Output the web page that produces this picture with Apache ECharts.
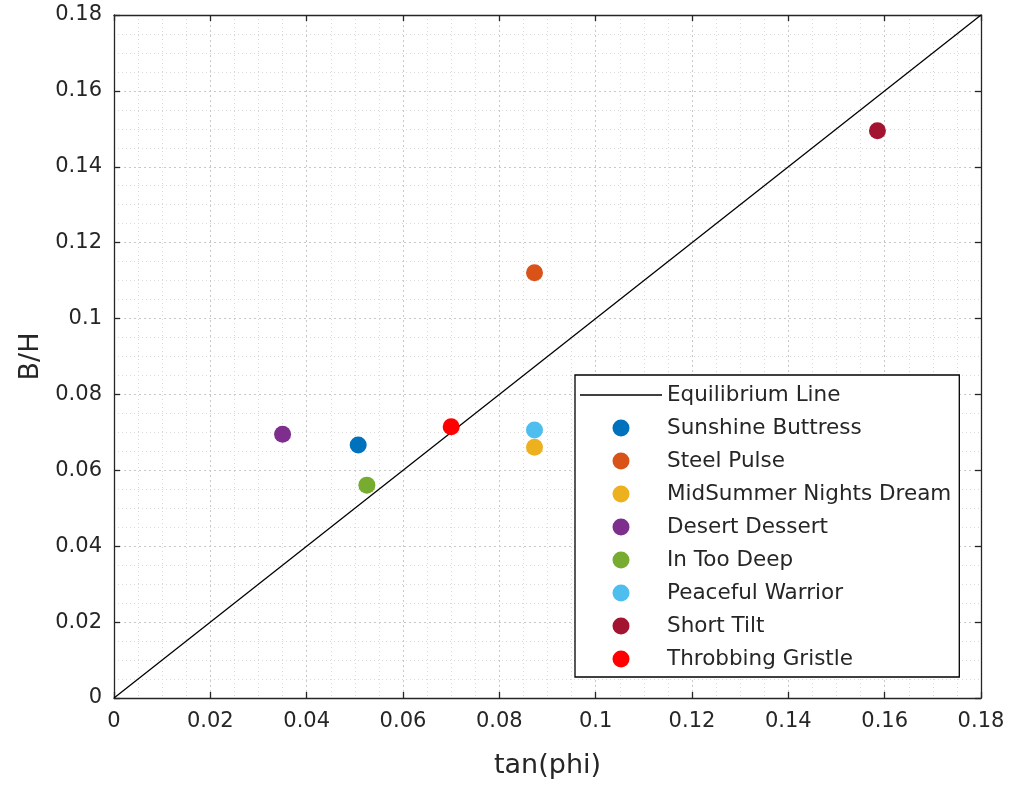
<!DOCTYPE html>
<html>
<head>
<meta charset="utf-8">
<script src="https://cdn.jsdelivr.net/npm/echarts@6/dist/echarts.min.js"></script>
<style>
  html, body { margin: 0; padding: 0; background: #fff; }
  #chart { width: 1013px; height: 788px; }
</style>
</head>
<body>
<div id="chart"></div>
<script>
// data
const siteNames = ['Sunshine Buttress', 'Steel Pulse', 'MidSummer Nights Dream', 'Desert Dessert',
  'In Too Deep', 'Peaceful Warrior', 'Short Tilt', 'Throbbing Gristle'];
const tanPhi = [0.0507, 0.0873, 0.0873, 0.0350, 0.0525, 0.0873, 0.1585, 0.0700];
const bOverH = [0.0667, 0.1121, 0.0661, 0.0695, 0.0561, 0.0706, 0.1495, 0.0715];
const siteColors = ['#0072BD', '#D95319', '#EDB120', '#7E2F8E', '#77AC30', '#4DBEEE', '#A2142F', '#FF0000'];
const eqLineX = [0, 0.18];
const eqLineY = [0, 0.18];
const tickLabels = ['0', '0.02', '0.04', '0.06', '0.08', '0.1', '0.12', '0.14', '0.16', '0.18'];

const FONT = 'DejaVu Sans';
const INK = '#262626';

function tickFmt(v) {
  return tickLabels[Math.round(v / 0.02)];
}

const chart = echarts.init(document.getElementById('chart'));

function baseAxis(extra) {
  return Object.assign({
    type: 'value',
    min: 0,
    max: 0.18,
    interval: 0.02,
    axisLine: { onZero: false, lineStyle: { color: INK, width: 1.3 } },
    axisTick: { inside: true, length: 6, lineStyle: { color: INK, width: 1.3 } },
    minorTick: { show: false },
  }, extra);
}

const gridLines = {
  splitLine: { show: true, lineStyle: { color: '#c8c8c8', type: [2, 3], width: 1 } },
  minorSplitLine: { show: true, lineStyle: { color: '#d9d9d9', type: [1, 3], width: 1 } },
  minorTick: { show: false, splitNumber: 4 },
};

const series = [{
  name: 'Equilibrium Line',
  type: 'line',
  xAxisIndex: 0,
  yAxisIndex: 0,
  data: eqLineX.map((x, i) => [x, eqLineY[i]]),
  symbol: 'none',
  lineStyle: { color: '#000', width: 1.3 },
  itemStyle: { color: '#000' },
  z: 2,
}];
siteNames.forEach((name, i) => {
  series.push({
    name: name,
    type: 'scatter',
    xAxisIndex: 0,
    yAxisIndex: 0,
    data: [[tanPhi[i], bOverH[i]]],
    symbol: 'circle',
    symbolSize: 17,
    itemStyle: { color: siteColors[i], opacity: 1 },
    z: 3,
  });
});

chart.setOption({
  animation: false,
  backgroundColor: '#fff',
  textStyle: { fontFamily: FONT },
  grid: { left: 114, right: 32, top: 15, bottom: 90, containLabel: false },
  xAxis: [
    baseAxis(Object.assign({
      position: 'bottom',
      name: 'tan(phi)',
      nameLocation: 'middle',
      nameGap: 54,
      nameTextStyle: { color: INK, fontSize: 27, fontFamily: FONT },
      axisLabel: { color: INK, fontSize: 21, fontFamily: FONT, margin: 13, formatter: tickFmt },
    }, gridLines)),
    baseAxis({
      position: 'top',
      axisLabel: { show: false },
      splitLine: { show: false },
    }),
  ],
  yAxis: [
    baseAxis(Object.assign({
      position: 'left',
      name: 'B/H',
      nameLocation: 'middle',
      nameGap: 62,
      nameTextStyle: { color: INK, fontSize: 27, fontFamily: FONT },
      axisLabel: { color: INK, fontSize: 21, fontFamily: FONT, margin: 12, formatter: tickFmt },
    }, gridLines)),
    baseAxis({
      position: 'right',
      axisLabel: { show: false },
      splitLine: { show: false },
    }),
  ],
  legend: {
    orient: 'vertical',
    left: 575,
    top: 375,
    data: [{ name: 'Equilibrium Line', icon: 'path://M0,0L82,0L82,1.3L0,1.3Z', itemStyle: { color: '#000' } }]
      .concat(siteNames),
    itemWidth: 82,
    itemHeight: 17,
    itemGap: 11,
    padding: [9, 8, 7, 5],
    backgroundColor: '#fff',
    borderColor: '#000',
    borderWidth: 1.3,
    borderRadius: 0,
    textStyle: { color: INK, fontSize: 21.5, fontFamily: FONT },
    selectedMode: false,
  },
  series: series,
});
</script>
</body>
</html>
